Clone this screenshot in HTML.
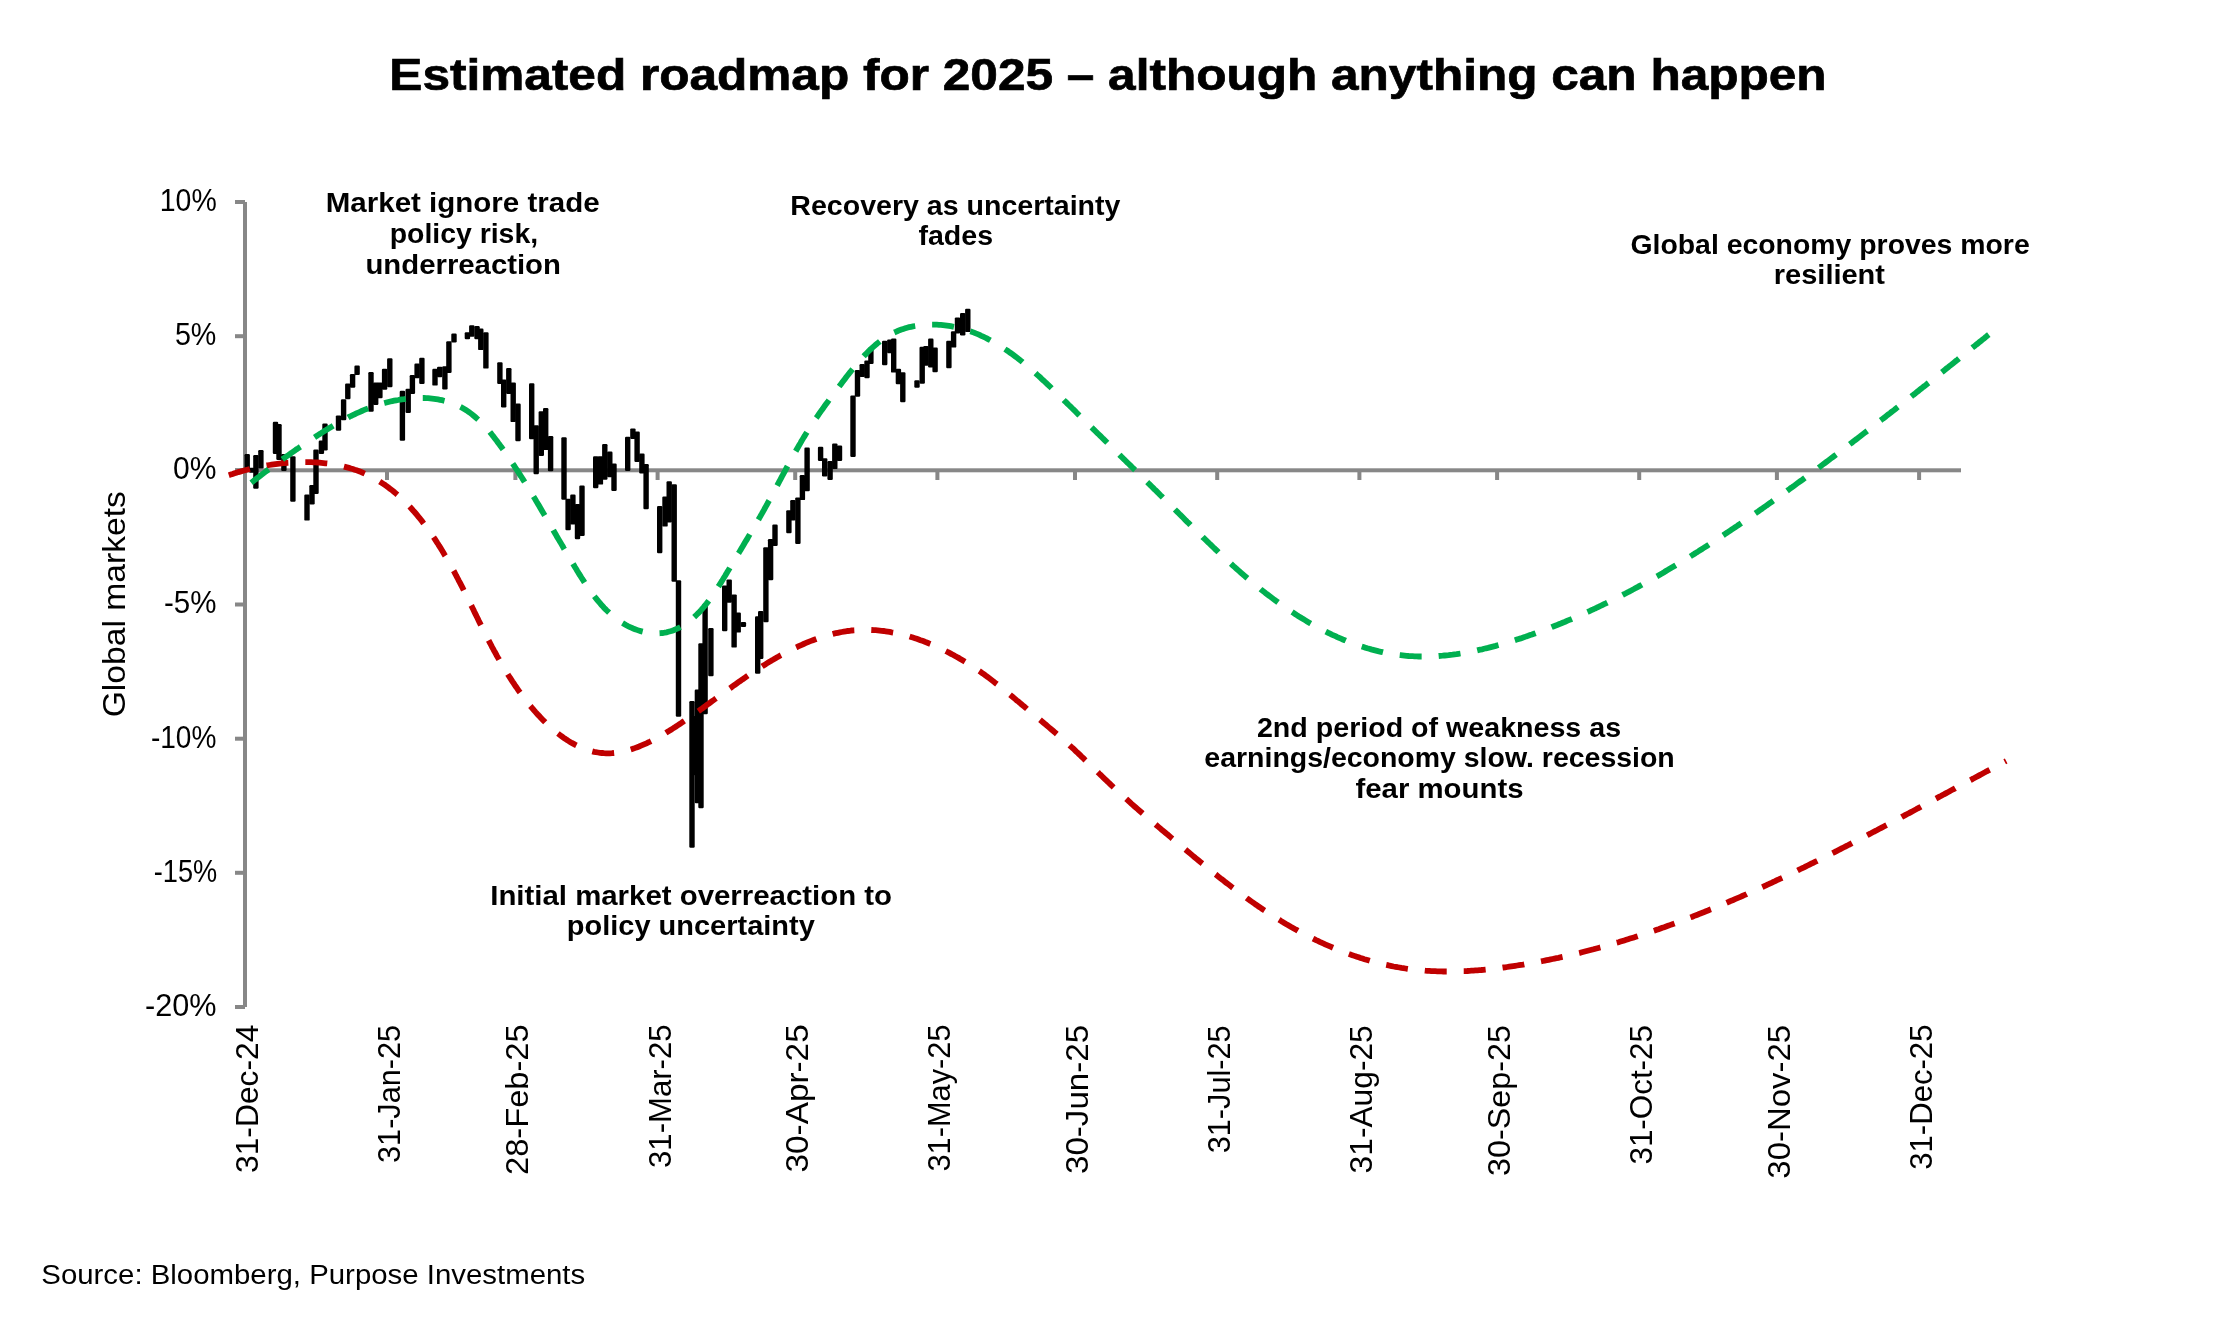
<!DOCTYPE html><html><head><meta charset="utf-8"><style>html,body{margin:0;padding:0;background:#fff;}svg{display:block;will-change:transform}</style></head><body>
<svg width="2240" height="1334" viewBox="0 0 2240 1334">
<rect x="0" y="0" width="2240" height="1334" fill="#fff"/>
<g id="axes" fill="#878787">
<rect x="243" y="202" width="4" height="805"/>
<rect x="235" y="200.0" width="10" height="4"/>
<rect x="235" y="334.2" width="10" height="4"/>
<rect x="235" y="468.3" width="10" height="4"/>
<rect x="235" y="602.5" width="10" height="4"/>
<rect x="235" y="736.7" width="10" height="4"/>
<rect x="235" y="870.8" width="10" height="4"/>
<rect x="235" y="1005.0" width="10" height="4"/>
<rect x="235" y="468.3" width="1726" height="4"/>
<rect x="385.0" y="470" width="4" height="10"/>
<rect x="513.4" y="470" width="4" height="10"/>
<rect x="655.6" y="470" width="4" height="10"/>
<rect x="793.2" y="470" width="4" height="10"/>
<rect x="935.4" y="470" width="4" height="10"/>
<rect x="1073.0" y="470" width="4" height="10"/>
<rect x="1215.2" y="470" width="4" height="10"/>
<rect x="1357.4" y="470" width="4" height="10"/>
<rect x="1495.1" y="470" width="4" height="10"/>
<rect x="1637.2" y="470" width="4" height="10"/>
<rect x="1774.9" y="470" width="4" height="10"/>
<rect x="1917.1" y="470" width="4" height="10"/>
</g>
<g id="black" fill="#000" stroke="#000">
<rect x="244.5" y="454.0" width="5.4" height="15.4" rx="1.2" stroke="none"/>
<rect x="249.0" y="467.8" width="5.4" height="5.0" rx="1.2" stroke="none"/>
<rect x="253.2" y="455.0" width="5.4" height="33.7" rx="1.2" stroke="none"/>
<rect x="258.2" y="450.0" width="5.4" height="18.5" rx="1.2" stroke="none"/>
<rect x="272.8" y="421.7" width="5.4" height="32.3" rx="1.2" stroke="none"/>
<rect x="276.3" y="424.0" width="5.4" height="36.0" rx="1.2" stroke="none"/>
<rect x="281.2" y="454.0" width="5.4" height="17.0" rx="1.2" stroke="none"/>
<rect x="290.2" y="456.3" width="5.4" height="45.4" rx="1.2" stroke="none"/>
<rect x="304.3" y="494.5" width="5.4" height="26.1" rx="1.2" stroke="none"/>
<rect x="309.3" y="485.0" width="5.4" height="19.4" rx="1.2" stroke="none"/>
<rect x="313.3" y="449.6" width="5.4" height="44.4" rx="1.2" stroke="none"/>
<rect x="318.7" y="440.6" width="5.4" height="13.4" rx="1.2" stroke="none"/>
<rect x="322.3" y="423.5" width="5.4" height="27.0" rx="1.2" stroke="none"/>
<rect x="335.8" y="415.4" width="5.4" height="15.3" rx="1.2" stroke="none"/>
<rect x="340.9" y="399.2" width="5.4" height="21.0" rx="1.2" stroke="none"/>
<rect x="345.1" y="383.5" width="5.4" height="15.7" rx="1.2" stroke="none"/>
<rect x="349.9" y="374.0" width="5.4" height="13.7" rx="1.2" stroke="none"/>
<rect x="354.4" y="365.6" width="5.4" height="9.4" rx="1.2" stroke="none"/>
<rect x="368.3" y="372.0" width="5.4" height="39.8" rx="1.2" stroke="none"/>
<rect x="373.0" y="382.4" width="5.4" height="22.6" rx="1.2" stroke="none"/>
<rect x="377.2" y="382.4" width="5.4" height="15.8" rx="1.2" stroke="none"/>
<rect x="381.9" y="368.8" width="5.4" height="21.0" rx="1.2" stroke="none"/>
<rect x="387.1" y="358.3" width="5.4" height="28.9" rx="1.2" stroke="none"/>
<rect x="399.7" y="390.8" width="5.4" height="49.9" rx="1.2" stroke="none"/>
<rect x="405.5" y="388.7" width="5.4" height="24.2" rx="1.2" stroke="none"/>
<rect x="409.7" y="375.1" width="5.4" height="18.9" rx="1.2" stroke="none"/>
<rect x="414.4" y="363.5" width="5.4" height="14.7" rx="1.2" stroke="none"/>
<rect x="419.2" y="357.8" width="5.4" height="26.2" rx="1.2" stroke="none"/>
<rect x="432.3" y="368.8" width="5.4" height="16.8" rx="1.2" stroke="none"/>
<rect x="437.0" y="366.7" width="5.4" height="10.5" rx="1.2" stroke="none"/>
<rect x="442.2" y="366.3" width="5.4" height="23.2" rx="1.2" stroke="none"/>
<rect x="446.2" y="341.2" width="5.4" height="31.8" rx="1.2" stroke="none"/>
<rect x="451.3" y="333.6" width="5.4" height="8.9" rx="1.2" stroke="none"/>
<rect x="464.7" y="332.3" width="5.4" height="7.0" rx="1.2" stroke="none"/>
<rect x="469.1" y="325.3" width="5.4" height="11.5" rx="1.2" stroke="none"/>
<rect x="474.3" y="326.0" width="5.4" height="13.3" rx="1.2" stroke="none"/>
<rect x="478.1" y="328.5" width="5.4" height="21.6" rx="1.2" stroke="none"/>
<rect x="483.2" y="332.3" width="5.4" height="36.3" rx="1.2" stroke="none"/>
<rect x="497.2" y="362.2" width="5.4" height="21.7" rx="1.2" stroke="none"/>
<rect x="501.0" y="379.4" width="5.4" height="28.1" rx="1.2" stroke="none"/>
<rect x="506.1" y="368.0" width="5.4" height="26.0" rx="1.2" stroke="none"/>
<rect x="510.5" y="382.6" width="5.4" height="39.5" rx="1.2" stroke="none"/>
<rect x="515.3" y="403.6" width="5.4" height="37.6" rx="1.2" stroke="none"/>
<rect x="529.0" y="383.2" width="5.4" height="56.1" rx="1.2" stroke="none"/>
<rect x="533.5" y="425.3" width="5.4" height="49.0" rx="1.2" stroke="none"/>
<rect x="538.6" y="411.3" width="5.4" height="44.6" rx="1.2" stroke="none"/>
<rect x="543.0" y="408.1" width="5.4" height="42.0" rx="1.2" stroke="none"/>
<rect x="547.9" y="436.1" width="5.4" height="35.1" rx="1.2" stroke="none"/>
<rect x="561.3" y="437.3" width="5.4" height="62.5" rx="1.2" stroke="none"/>
<rect x="565.4" y="498.7" width="5.4" height="31.5" rx="1.2" stroke="none"/>
<rect x="570.2" y="494.5" width="5.4" height="30.0" rx="1.2" stroke="none"/>
<rect x="574.8" y="504.0" width="5.4" height="35.2" rx="1.2" stroke="none"/>
<rect x="579.3" y="485.6" width="5.4" height="50.4" rx="1.2" stroke="none"/>
<rect x="593.0" y="456.2" width="5.4" height="32.0" rx="1.2" stroke="none"/>
<rect x="597.7" y="456.2" width="5.4" height="28.4" rx="1.2" stroke="none"/>
<rect x="602.1" y="444.1" width="5.4" height="35.7" rx="1.2" stroke="none"/>
<rect x="607.1" y="451.5" width="5.4" height="25.7" rx="1.2" stroke="none"/>
<rect x="611.3" y="463.6" width="5.4" height="27.3" rx="1.2" stroke="none"/>
<rect x="625.0" y="436.8" width="5.4" height="34.1" rx="1.2" stroke="none"/>
<rect x="630.2" y="428.4" width="5.4" height="10.5" rx="1.2" stroke="none"/>
<rect x="634.4" y="431.5" width="5.4" height="30.5" rx="1.2" stroke="none"/>
<rect x="639.2" y="453.6" width="5.4" height="19.9" rx="1.2" stroke="none"/>
<rect x="643.4" y="464.1" width="5.4" height="45.1" rx="1.2" stroke="none"/>
<rect x="657.0" y="506.1" width="5.4" height="47.2" rx="1.2" stroke="none"/>
<rect x="662.3" y="496.6" width="5.4" height="30.0" rx="1.2" stroke="none"/>
<rect x="666.5" y="481.2" width="5.4" height="41.3" rx="1.2" stroke="none"/>
<rect x="671.5" y="484.2" width="5.4" height="97.5" rx="1.2" stroke="none"/>
<rect x="675.8" y="580.2" width="5.4" height="136.5" rx="1.2" stroke="none"/>
<rect x="689.3" y="701.0" width="5.4" height="146.8" rx="1.2" stroke="none"/>
<rect x="690.1" y="715.9" width="5.4" height="59.3" rx="1.2" stroke="none"/>
<rect x="694.7" y="689.5" width="5.4" height="113.8" rx="1.2" stroke="none"/>
<rect x="698.3" y="643.3" width="5.4" height="164.9" rx="1.2" stroke="none"/>
<rect x="702.4" y="604.0" width="5.4" height="110.2" rx="1.2" stroke="none"/>
<rect x="708.2" y="628.0" width="5.4" height="48.3" rx="1.2" stroke="none"/>
<rect x="722.0" y="585.4" width="5.4" height="45.8" rx="1.2" stroke="none"/>
<rect x="726.5" y="579.4" width="5.4" height="23.3" rx="1.2" stroke="none"/>
<rect x="731.4" y="594.4" width="5.4" height="53.2" rx="1.2" stroke="none"/>
<rect x="735.5" y="612.4" width="5.4" height="20.2" rx="1.2" stroke="none"/>
<rect x="740.7" y="622.0" width="5.4" height="5.0" rx="1.2" stroke="none"/>
<rect x="755.0" y="616.2" width="5.4" height="57.6" rx="1.2" stroke="none"/>
<rect x="758.0" y="611.0" width="5.4" height="47.9" rx="1.2" stroke="none"/>
<rect x="763.2" y="547.2" width="5.4" height="75.0" rx="1.2" stroke="none"/>
<rect x="767.9" y="539.0" width="5.4" height="41.2" rx="1.2" stroke="none"/>
<rect x="772.3" y="524.5" width="5.4" height="21.5" rx="1.2" stroke="none"/>
<rect x="786.2" y="510.2" width="5.4" height="23.0" rx="1.2" stroke="none"/>
<rect x="790.2" y="500.1" width="5.4" height="20.3" rx="1.2" stroke="none"/>
<rect x="795.2" y="497.4" width="5.4" height="46.6" rx="1.2" stroke="none"/>
<rect x="799.7" y="475.1" width="5.4" height="25.0" rx="1.2" stroke="none"/>
<rect x="804.4" y="447.5" width="5.4" height="43.8" rx="1.2" stroke="none"/>
<rect x="817.9" y="446.8" width="5.4" height="14.2" rx="1.2" stroke="none"/>
<rect x="822.0" y="458.3" width="5.4" height="18.2" rx="1.2" stroke="none"/>
<rect x="827.4" y="461.0" width="5.4" height="18.9" rx="1.2" stroke="none"/>
<rect x="832.1" y="443.4" width="5.4" height="25.7" rx="1.2" stroke="none"/>
<rect x="836.8" y="445.5" width="5.4" height="15.5" rx="1.2" stroke="none"/>
<rect x="850.3" y="395.5" width="5.4" height="61.4" rx="1.2" stroke="none"/>
<rect x="854.8" y="370.0" width="5.4" height="26.7" rx="1.2" stroke="none"/>
<rect x="859.5" y="364.0" width="5.4" height="12.9" rx="1.2" stroke="none"/>
<rect x="864.3" y="360.5" width="5.4" height="17.7" rx="1.2" stroke="none"/>
<rect x="868.2" y="347.6" width="5.4" height="16.4" rx="1.2" stroke="none"/>
<rect x="882.0" y="340.7" width="5.4" height="24.6" rx="1.2" stroke="none"/>
<rect x="887.1" y="339.4" width="5.4" height="13.8" rx="1.2" stroke="none"/>
<rect x="891.0" y="338.5" width="5.4" height="34.1" rx="1.2" stroke="none"/>
<rect x="895.7" y="368.7" width="5.4" height="15.5" rx="1.2" stroke="none"/>
<rect x="900.1" y="372.2" width="5.4" height="30.1" rx="1.2" stroke="none"/>
<rect x="914.3" y="380.3" width="5.4" height="7.4" rx="1.2" stroke="none"/>
<rect x="919.5" y="346.7" width="5.4" height="37.1" rx="1.2" stroke="none"/>
<rect x="923.3" y="345.9" width="5.4" height="19.8" rx="1.2" stroke="none"/>
<rect x="928.1" y="338.5" width="5.4" height="28.9" rx="1.2" stroke="none"/>
<rect x="932.4" y="347.6" width="5.4" height="24.6" rx="1.2" stroke="none"/>
<rect x="946.2" y="340.7" width="5.4" height="27.6" rx="1.2" stroke="none"/>
<rect x="950.9" y="331.2" width="5.4" height="16.4" rx="1.2" stroke="none"/>
<rect x="954.8" y="317.4" width="5.4" height="16.0" rx="1.2" stroke="none"/>
<rect x="960.0" y="313.1" width="5.4" height="22.4" rx="1.2" stroke="none"/>
<rect x="965.1" y="308.8" width="5.4" height="23.3" rx="1.2" stroke="none"/>
</g>
<path id="red" d="M228.8 475.2 L230.7 474.6 L232.6 474.0 L234.5 473.3 L236.4 472.7 L238.3 472.1 L240.2 471.6 L242.2 471.0 L244.1 470.5 L246.0 470.0 L248.0 469.5 L249.9 469.0 L251.8 468.5 L253.8 468.0 L255.7 467.6 L257.7 467.2 L259.7 466.8 L261.6 466.4 L263.6 466.0 L265.6 465.6 L267.5 465.3 L269.5 465.0 L271.5 464.7 L273.5 464.4 L275.5 464.1 L277.5 463.8 L279.4 463.6 L281.4 463.4 L283.4 463.2 L285.4 463.0 L287.4 462.8 L289.4 462.7 L291.4 462.5 L293.4 462.4 L295.4 462.3 L297.4 462.2 L299.4 462.2 L301.4 462.1 L303.4 462.1 L305.4 462.1 L307.4 462.1 L309.4 462.2 L311.4 462.2 L313.4 462.3 L315.4 462.4 L317.4 462.5 L319.4 462.7 L321.4 462.9 L323.4 463.1 L325.4 463.3 L327.4 463.5 L329.4 463.8 L331.4 464.1 L333.3 464.4 L335.3 464.7 L337.3 465.1 L339.2 465.5 L341.2 465.9 L343.2 466.4 L345.1 466.9 L347.0 467.4 L349.0 467.9 L350.9 468.5 L352.8 469.0 L354.7 469.7 L356.6 470.3 L358.5 471.0 L360.4 471.7 L362.2 472.5 L364.1 473.3 L365.9 474.1 L367.7 474.9 L369.5 475.8 L371.3 476.7 L373.1 477.6 L374.8 478.6 L376.6 479.6 L378.3 480.6 L380.0 481.7 L381.7 482.8 L383.3 483.9 L385.0 485.0 L386.6 486.2 L388.2 487.3 L389.8 488.6 L391.4 489.8 L393.0 491.0 L394.5 492.3 L396.1 493.6 L397.6 494.9 L399.1 496.2 L400.6 497.6 L402.0 499.0 L403.5 500.3 L404.9 501.7 L406.3 503.2 L407.7 504.6 L409.1 506.0 L410.5 507.5 L411.8 509.0 L413.1 510.5 L414.5 512.0 L415.8 513.5 L417.1 515.0 L418.3 516.6 L419.6 518.1 L420.9 519.7 L422.1 521.3 L423.3 522.9 L424.5 524.5 L425.7 526.1 L426.9 527.7 L428.1 529.3 L429.3 530.9 L430.4 532.6 L431.5 534.2 L432.7 535.9 L433.8 537.5 L434.9 539.2 L436.0 540.9 L437.1 542.6 L438.2 544.2 L439.2 545.9 L440.3 547.6 L441.3 549.3 L442.4 551.1 L443.4 552.8 L444.4 554.5 L445.5 556.2 L446.5 558.0 L447.5 559.7 L448.5 561.4 L449.4 563.2 L450.4 564.9 L451.4 566.7 L452.3 568.4 L453.3 570.2 L454.3 571.9 L455.2 573.7 L456.1 575.5 L457.1 577.3 L458.0 579.0 L458.9 580.8 L459.9 582.6 L460.8 584.4 L461.7 586.2 L462.6 587.9 L463.5 589.7 L464.4 591.5 L465.3 593.3 L466.2 595.1 L467.1 596.9 L468.0 598.7 L468.8 600.5 L469.7 602.3 L470.6 604.1 L471.5 605.9 L472.4 607.7 L473.3 609.5 L474.1 611.3 L475.0 613.1 L475.9 614.9 L476.8 616.7 L477.7 618.5 L478.5 620.3 L479.4 622.1 L480.3 623.9 L481.2 625.7 L482.1 627.5 L483.0 629.2 L483.9 631.0 L484.8 632.8 L485.7 634.6 L486.6 636.4 L487.5 638.2 L488.4 640.0 L489.3 641.7 L490.3 643.5 L491.2 645.3 L492.1 647.1 L493.1 648.8 L494.0 650.6 L495.0 652.3 L496.0 654.1 L496.9 655.9 L497.9 657.6 L498.9 659.3 L499.9 661.1 L500.9 662.8 L501.9 664.6 L502.9 666.3 L503.9 668.0 L505.0 669.7 L506.0 671.4 L507.1 673.1 L508.1 674.8 L509.2 676.5 L510.3 678.2 L511.4 679.9 L512.5 681.6 L513.6 683.2 L514.7 684.9 L515.8 686.5 L517.0 688.2 L518.1 689.8 L519.3 691.5 L520.5 693.1 L521.6 694.7 L522.8 696.3 L524.0 697.9 L525.3 699.5 L526.5 701.1 L527.7 702.7 L529.0 704.2 L530.2 705.8 L531.5 707.3 L532.8 708.8 L534.1 710.4 L535.4 711.9 L536.8 713.4 L538.1 714.9 L539.5 716.3 L540.8 717.8 L542.2 719.2 L543.6 720.7 L545.1 722.1 L546.5 723.5 L547.9 724.9 L549.4 726.2 L550.9 727.6 L552.4 728.9 L553.9 730.2 L555.4 731.5 L557.0 732.8 L558.6 734.0 L560.2 735.2 L561.8 736.4 L563.4 737.6 L565.1 738.7 L566.7 739.8 L568.4 740.9 L570.1 741.9 L571.8 742.9 L573.6 743.9 L575.4 744.9 L577.2 745.8 L579.0 746.6 L580.8 747.4 L582.6 748.2 L584.5 748.9 L586.4 749.6 L588.3 750.2 L590.2 750.8 L592.2 751.3 L594.1 751.8 L596.1 752.2 L598.0 752.5 L600.0 752.8 L602.0 753.0 L604.0 753.2 L606.0 753.3 L608.0 753.3 L610.0 753.3 L612.0 753.2 L614.0 753.0 L616.0 752.8 L618.0 752.5 L620.0 752.2 L621.9 751.8 L623.9 751.4 L625.8 750.9 L627.8 750.4 L629.7 749.8 L631.6 749.2 L633.5 748.6 L635.4 747.9 L637.3 747.2 L639.1 746.5 L641.0 745.7 L642.8 744.9 L644.6 744.1 L646.5 743.3 L648.3 742.4 L650.1 741.6 L651.9 740.7 L653.6 739.7 L655.4 738.8 L657.2 737.9 L658.9 736.9 L660.7 735.9 L662.4 734.9 L664.1 733.9 L665.9 732.9 L667.6 731.8 L669.3 730.8 L671.0 729.7 L672.7 728.6 L674.4 727.6 L676.0 726.5 L677.7 725.4 L679.4 724.3 L681.1 723.2 L682.7 722.0 L684.4 720.9 L686.0 719.8 L687.7 718.7 L689.3 717.5 L691.0 716.4 L692.6 715.2 L694.3 714.1 L695.9 712.9 L697.5 711.8 L699.2 710.6 L700.8 709.4 L702.4 708.3 L704.0 707.1 L705.7 705.9 L707.3 704.7 L708.9 703.6 L710.5 702.4 L712.1 701.2 L713.8 700.0 L715.4 698.8 L717.0 697.7 L718.6 696.5 L720.2 695.3 L721.9 694.1 L723.5 692.9 L725.1 691.8 L726.7 690.6 L728.3 689.4 L730.0 688.3 L731.6 687.1 L733.2 685.9 L734.9 684.8 L736.5 683.6 L738.1 682.4 L739.8 681.3 L741.4 680.1 L743.1 679.0 L744.7 677.9 L746.4 676.7 L748.0 675.6 L749.7 674.5 L751.3 673.4 L753.0 672.3 L754.7 671.2 L756.3 670.1 L758.0 669.0 L759.7 667.9 L761.4 666.8 L763.1 665.7 L764.8 664.7 L766.5 663.6 L768.2 662.6 L769.9 661.6 L771.6 660.5 L773.4 659.5 L775.1 658.5 L776.8 657.5 L778.6 656.5 L780.3 655.5 L782.1 654.6 L783.8 653.6 L785.6 652.7 L787.4 651.7 L789.2 650.8 L791.0 649.9 L792.7 649.0 L794.5 648.1 L796.4 647.3 L798.2 646.4 L800.0 645.6 L801.8 644.8 L803.6 644.0 L805.5 643.2 L807.3 642.4 L809.2 641.6 L811.1 640.9 L812.9 640.2 L814.8 639.5 L816.7 638.8 L818.6 638.1 L820.5 637.5 L822.4 636.9 L824.3 636.3 L826.2 635.7 L828.1 635.2 L830.1 634.6 L832.0 634.1 L833.9 633.6 L835.9 633.2 L837.9 632.8 L839.8 632.4 L841.8 632.0 L843.8 631.6 L845.7 631.3 L847.7 631.0 L849.7 630.8 L851.7 630.5 L853.7 630.3 L855.7 630.2 L857.7 630.1 L859.7 629.9 L861.7 629.9 L863.7 629.8 L865.7 629.8 L867.7 629.9 L869.7 629.9 L871.7 630.0 L873.7 630.1 L875.7 630.2 L877.7 630.4 L879.7 630.6 L881.7 630.8 L883.7 631.0 L885.6 631.3 L887.6 631.6 L889.6 631.9 L891.6 632.3 L893.5 632.6 L895.5 633.0 L897.5 633.5 L899.4 633.9 L901.4 634.4 L903.3 634.8 L905.3 635.4 L907.2 635.9 L909.1 636.4 L911.0 637.0 L912.9 637.6 L914.9 638.2 L916.8 638.8 L918.7 639.5 L920.5 640.2 L922.4 640.8 L924.3 641.5 L926.2 642.3 L928.0 643.0 L929.9 643.8 L931.7 644.5 L933.6 645.3 L935.4 646.1 L937.2 646.9 L939.1 647.8 L940.9 648.6 L942.7 649.5 L944.5 650.4 L946.3 651.3 L948.0 652.2 L949.8 653.1 L951.6 654.1 L953.4 655.0 L955.1 656.0 L956.9 657.0 L958.6 657.9 L960.3 658.9 L962.1 660.0 L963.8 661.0 L965.5 662.0 L967.2 663.1 L968.9 664.2 L970.6 665.2 L972.3 666.3 L973.9 667.4 L975.6 668.5 L977.3 669.7 L978.9 670.8 L980.6 671.9 L982.2 673.1 L983.8 674.2 L985.4 675.4 L987.1 676.6 L988.7 677.8 L990.3 679.0 L991.9 680.2 L993.5 681.4 L995.0 682.7 L996.6 683.9 L998.2 685.1 L999.8 686.4 L1001.3 687.6 L1002.9 688.9 L1004.4 690.1 L1006.0 691.4 L1007.5 692.7 L1009.1 694.0 L1010.6 695.2 L1012.2 696.5 L1013.7 697.8 L1015.3 699.1 L1016.8 700.4 L1018.3 701.6 L1019.9 702.9 L1021.4 704.2 L1022.9 705.5 L1024.5 706.8 L1026.0 708.1 L1027.5 709.4 L1029.1 710.6 L1030.6 711.9 L1032.1 713.2 L1033.7 714.5 L1035.2 715.8 L1036.8 717.1 L1038.3 718.3 L1039.8 719.6 L1041.4 720.9 L1042.9 722.2 L1044.4 723.5 L1046.0 724.8 L1047.5 726.1 L1049.0 727.4 L1050.6 728.7 L1052.1 730.0 L1053.6 731.3 L1055.1 732.6 L1056.7 733.9 L1058.2 735.2 L1059.7 736.5 L1061.2 737.8 L1062.7 739.1 L1064.2 740.5 L1065.7 741.8 L1067.2 743.1 L1068.7 744.5 L1070.1 745.8 L1071.6 747.2 L1073.1 748.5 L1074.6 749.9 L1076.0 751.3 L1077.5 752.7 L1078.9 754.0 L1080.4 755.4 L1081.8 756.8 L1083.3 758.2 L1084.7 759.6 L1086.2 761.0 L1087.6 762.4 L1089.0 763.7 L1090.5 765.1 L1091.9 766.5 L1093.4 767.9 L1094.8 769.3 L1096.2 770.7 L1097.7 772.1 L1099.1 773.5 L1100.6 774.9 L1102.0 776.3 L1103.4 777.7 L1104.9 779.1 L1106.3 780.4 L1107.8 781.8 L1109.2 783.2 L1110.7 784.6 L1112.1 786.0 L1113.6 787.3 L1115.1 788.7 L1116.5 790.1 L1118.0 791.4 L1119.5 792.8 L1120.9 794.1 L1122.4 795.5 L1123.9 796.9 L1125.4 798.2 L1126.9 799.5 L1128.4 800.9 L1129.8 802.2 L1131.3 803.6 L1132.8 804.9 L1134.3 806.2 L1135.8 807.5 L1137.4 808.9 L1138.9 810.2 L1140.4 811.5 L1141.9 812.8 L1143.4 814.1 L1144.9 815.4 L1146.4 816.7 L1148.0 818.0 L1149.5 819.3 L1151.0 820.6 L1152.5 821.9 L1154.1 823.2 L1155.6 824.5 L1157.1 825.8 L1158.7 827.1 L1160.2 828.4 L1161.7 829.7 L1163.3 831.0 L1164.8 832.2 L1166.3 833.5 L1167.9 834.8 L1169.4 836.1 L1170.9 837.4 L1172.5 838.7 L1174.0 840.0 L1175.5 841.3 L1177.1 842.5 L1178.6 843.8 L1180.1 845.1 L1181.7 846.4 L1183.2 847.7 L1184.7 849.0 L1186.3 850.3 L1187.8 851.6 L1189.3 852.8 L1190.9 854.1 L1192.4 855.4 L1194.0 856.7 L1195.5 858.0 L1197.1 859.2 L1198.6 860.5 L1200.1 861.8 L1201.7 863.1 L1203.2 864.3 L1204.8 865.6 L1206.3 866.9 L1207.9 868.1 L1209.4 869.4 L1211.0 870.7 L1212.6 871.9 L1214.1 873.2 L1215.7 874.4 L1217.3 875.7 L1218.8 876.9 L1220.4 878.2 L1222.0 879.4 L1223.5 880.6 L1225.1 881.9 L1226.7 883.1 L1228.3 884.3 L1229.9 885.5 L1231.5 886.8 L1233.1 888.0 L1234.7 889.2 L1236.3 890.4 L1237.9 891.6 L1239.5 892.8 L1241.1 894.0 L1242.7 895.2 L1244.3 896.3 L1245.9 897.5 L1247.5 898.7 L1249.2 899.9 L1250.8 901.0 L1252.4 902.2 L1254.1 903.3 L1255.7 904.5 L1257.4 905.6 L1259.0 906.8 L1260.7 907.9 L1262.3 909.0 L1264.0 910.1 L1265.7 911.2 L1267.3 912.3 L1269.0 913.4 L1270.7 914.5 L1272.4 915.6 L1274.1 916.7 L1275.8 917.7 L1277.5 918.8 L1279.2 919.8 L1280.9 920.9 L1282.6 921.9 L1284.3 923.0 L1286.0 924.0 L1287.8 925.0 L1289.5 926.0 L1291.2 927.0 L1293.0 928.0 L1294.7 929.0 L1296.5 929.9 L1298.2 930.9 L1300.0 931.9 L1301.8 932.8 L1303.5 933.7 L1305.3 934.7 L1307.1 935.6 L1308.9 936.5 L1310.7 937.4 L1312.4 938.3 L1314.2 939.2 L1316.0 940.1 L1317.9 940.9 L1319.7 941.8 L1321.5 942.6 L1323.3 943.5 L1325.1 944.3 L1327.0 945.1 L1328.8 945.9 L1330.6 946.7 L1332.5 947.5 L1334.3 948.3 L1336.2 949.0 L1338.0 949.8 L1339.9 950.5 L1341.8 951.3 L1343.6 952.0 L1345.5 952.7 L1347.4 953.4 L1349.3 954.1 L1351.1 954.8 L1353.0 955.4 L1354.9 956.1 L1356.8 956.7 L1358.7 957.3 L1360.6 958.0 L1362.5 958.6 L1364.4 959.2 L1366.4 959.7 L1368.3 960.3 L1370.2 960.9 L1372.1 961.4 L1374.1 961.9 L1376.0 962.4 L1377.9 962.9 L1379.9 963.4 L1381.8 963.9 L1383.8 964.4 L1385.7 964.8 L1387.7 965.2 L1389.7 965.7 L1391.6 966.1 L1393.6 966.5 L1395.5 966.8 L1397.5 967.2 L1399.5 967.5 L1401.5 967.9 L1403.4 968.2 L1405.4 968.5 L1407.4 968.8 L1409.4 969.1 L1411.4 969.3 L1413.4 969.5 L1415.4 969.8 L1417.3 970.0 L1419.3 970.2 L1421.3 970.4 L1423.3 970.5 L1425.3 970.7 L1427.3 970.8 L1429.3 970.9 L1431.3 971.1 L1433.3 971.2 L1435.3 971.2 L1437.3 971.3 L1439.3 971.4 L1441.3 971.4 L1443.3 971.5 L1445.3 971.5 L1447.3 971.5 L1449.3 971.5 L1451.4 971.5 L1453.4 971.4 L1455.4 971.4 L1457.4 971.4 L1459.4 971.3 L1461.4 971.2 L1463.4 971.1 L1465.4 971.1 L1467.4 971.0 L1469.4 970.8 L1471.4 970.7 L1473.4 970.6 L1475.4 970.4 L1477.4 970.3 L1479.4 970.1 L1481.4 970.0 L1483.3 969.8 L1485.3 969.6 L1487.3 969.4 L1489.3 969.2 L1491.3 969.0 L1493.3 968.8 L1495.3 968.5 L1497.3 968.3 L1499.3 968.0 L1501.3 967.8 L1503.3 967.5 L1505.2 967.3 L1507.2 967.0 L1509.2 966.7 L1511.2 966.4 L1513.2 966.1 L1515.1 965.8 L1517.1 965.5 L1519.1 965.2 L1521.1 964.9 L1523.1 964.6 L1525.0 964.2 L1527.0 963.9 L1529.0 963.6 L1531.0 963.2 L1532.9 962.8 L1534.9 962.5 L1536.9 962.1 L1538.8 961.8 L1540.8 961.4 L1542.8 961.0 L1544.7 960.6 L1546.7 960.2 L1548.7 959.8 L1550.6 959.4 L1552.6 959.0 L1554.5 958.6 L1556.5 958.2 L1558.5 957.8 L1560.4 957.3 L1562.4 956.9 L1564.3 956.5 L1566.3 956.0 L1568.2 955.6 L1570.2 955.1 L1572.1 954.6 L1574.1 954.2 L1576.0 953.7 L1578.0 953.2 L1579.9 952.8 L1581.9 952.3 L1583.8 951.8 L1585.7 951.3 L1587.7 950.8 L1589.6 950.3 L1591.6 949.8 L1593.5 949.3 L1595.4 948.7 L1597.4 948.2 L1599.3 947.7 L1601.2 947.2 L1603.2 946.6 L1605.1 946.1 L1607.0 945.5 L1608.9 945.0 L1610.9 944.4 L1612.8 943.9 L1614.7 943.3 L1616.6 942.7 L1618.6 942.2 L1620.5 941.6 L1622.4 941.0 L1624.3 940.4 L1626.2 939.8 L1628.1 939.2 L1630.0 938.6 L1632.0 938.0 L1633.9 937.4 L1635.8 936.8 L1637.7 936.2 L1639.6 935.6 L1641.5 935.0 L1643.4 934.3 L1645.3 933.7 L1647.2 933.1 L1649.1 932.4 L1651.0 931.8 L1652.9 931.1 L1654.8 930.5 L1656.7 929.8 L1658.6 929.2 L1660.4 928.5 L1662.3 927.8 L1664.2 927.2 L1666.1 926.5 L1668.0 925.8 L1669.9 925.1 L1671.8 924.4 L1673.6 923.8 L1675.5 923.1 L1677.4 922.4 L1679.3 921.7 L1681.2 921.0 L1683.0 920.3 L1684.9 919.5 L1686.8 918.8 L1688.6 918.1 L1690.5 917.4 L1692.4 916.7 L1694.2 915.9 L1696.1 915.2 L1698.0 914.5 L1699.8 913.7 L1701.7 913.0 L1703.6 912.3 L1705.4 911.5 L1707.3 910.8 L1709.1 910.0 L1711.0 909.3 L1712.8 908.5 L1714.7 907.7 L1716.5 907.0 L1718.4 906.2 L1720.2 905.4 L1722.1 904.7 L1723.9 903.9 L1725.8 903.1 L1727.6 902.3 L1729.5 901.5 L1731.3 900.7 L1733.2 900.0 L1735.0 899.2 L1736.8 898.4 L1738.7 897.6 L1740.5 896.8 L1742.3 896.0 L1744.2 895.2 L1746.0 894.4 L1747.8 893.5 L1749.7 892.7 L1751.5 891.9 L1753.3 891.1 L1755.2 890.3 L1757.0 889.4 L1758.8 888.6 L1760.6 887.8 L1762.4 887.0 L1764.3 886.1 L1766.1 885.3 L1767.9 884.5 L1769.7 883.6 L1771.5 882.8 L1773.4 881.9 L1775.2 881.1 L1777.0 880.2 L1778.8 879.4 L1780.6 878.5 L1782.4 877.7 L1784.2 876.8 L1786.0 876.0 L1787.9 875.1 L1789.7 874.2 L1791.5 873.4 L1793.3 872.5 L1795.1 871.6 L1796.9 870.8 L1798.7 869.9 L1800.5 869.0 L1802.3 868.1 L1804.1 867.3 L1805.9 866.4 L1807.7 865.5 L1809.5 864.6 L1811.3 863.7 L1813.1 862.8 L1814.9 861.9 L1816.7 861.1 L1818.5 860.2 L1820.3 859.3 L1822.0 858.4 L1823.8 857.5 L1825.6 856.6 L1827.4 855.7 L1829.2 854.8 L1831.0 853.9 L1832.8 853.0 L1834.6 852.1 L1836.4 851.2 L1838.1 850.2 L1839.9 849.3 L1841.7 848.4 L1843.5 847.5 L1845.3 846.6 L1847.1 845.7 L1848.8 844.8 L1850.6 843.9 L1852.4 842.9 L1854.2 842.0 L1856.0 841.1 L1857.7 840.2 L1859.5 839.3 L1861.3 838.3 L1863.1 837.4 L1864.8 836.5 L1866.6 835.5 L1868.4 834.6 L1870.2 833.7 L1871.9 832.8 L1873.7 831.8 L1875.5 830.9 L1877.3 830.0 L1879.0 829.0 L1880.8 828.1 L1882.6 827.2 L1884.3 826.2 L1886.1 825.3 L1887.9 824.4 L1889.7 823.4 L1891.4 822.5 L1893.2 821.5 L1895.0 820.6 L1896.7 819.7 L1898.5 818.7 L1900.3 817.8 L1902.0 816.8 L1903.8 815.9 L1905.6 814.9 L1907.3 814.0 L1909.1 813.1 L1910.9 812.1 L1912.6 811.2 L1914.4 810.2 L1916.2 809.3 L1917.9 808.3 L1919.7 807.4 L1921.5 806.4 L1923.2 805.5 L1925.0 804.5 L1926.8 803.6 L1928.5 802.6 L1930.3 801.7 L1932.0 800.7 L1933.8 799.8 L1935.6 798.8 L1937.3 797.9 L1939.1 796.9 L1940.9 796.0 L1942.6 795.0 L1944.4 794.1 L1946.2 793.1 L1947.9 792.2 L1949.7 791.2 L1951.4 790.3 L1953.2 789.3 L1955.0 788.4 L1956.7 787.4 L1958.5 786.5 L1960.3 785.5 L1962.0 784.6 L1963.8 783.6 L1965.6 782.7 L1967.3 781.8 L1969.1 780.8 L1970.9 779.9 L1972.6 778.9 L1974.4 778.0 L1976.2 777.0 L1977.9 776.1 L1979.7 775.1 L1981.4 774.2 L1983.2 773.2 L1985.0 772.3 L1986.7 771.3 L1988.5 770.4 L1990.3 769.5 L1992.0 768.5 L1993.8 767.6 L1995.6 766.6 L1997.4 765.7 L1999.1 764.7 L2000.9 763.8 L2002.7 762.9 L2004.4 761.9 L2006.2 761.0" fill="none" stroke="#C00000" stroke-width="5.8" stroke-dasharray="22 17"/>
<path id="green" d="M251.2 482.8 L252.8 481.6 L254.3 480.3 L255.9 479.1 L257.5 477.9 L259.1 476.7 L260.7 475.4 L262.3 474.2 L263.9 473.0 L265.5 471.8 L267.1 470.6 L268.7 469.4 L270.3 468.2 L271.9 467.0 L273.5 465.8 L275.1 464.6 L276.7 463.4 L278.3 462.3 L280.0 461.1 L281.6 459.9 L283.2 458.7 L284.8 457.6 L286.5 456.4 L288.1 455.3 L289.8 454.1 L291.4 453.0 L293.0 451.8 L294.7 450.7 L296.3 449.5 L298.0 448.4 L299.6 447.3 L301.3 446.2 L303.0 445.0 L304.6 443.9 L306.3 442.8 L308.0 441.7 L309.6 440.6 L311.3 439.5 L313.0 438.4 L314.7 437.3 L316.3 436.2 L318.0 435.1 L319.7 434.0 L321.4 433.0 L323.1 431.9 L324.8 430.8 L326.5 429.8 L328.2 428.7 L329.9 427.7 L331.6 426.7 L333.4 425.6 L335.1 424.6 L336.8 423.6 L338.6 422.6 L340.3 421.7 L342.1 420.7 L343.8 419.7 L345.6 418.8 L347.4 417.9 L349.1 416.9 L350.9 416.0 L352.7 415.2 L354.5 414.3 L356.3 413.4 L358.2 412.6 L360.0 411.8 L361.8 411.0 L363.7 410.2 L365.5 409.4 L367.4 408.7 L369.3 408.0 L371.1 407.3 L373.0 406.6 L374.9 405.9 L376.8 405.3 L378.7 404.7 L380.6 404.1 L382.6 403.5 L384.5 403.0 L386.4 402.5 L388.4 402.0 L390.3 401.5 L392.3 401.1 L394.2 400.7 L396.2 400.3 L398.2 400.0 L400.2 399.6 L402.1 399.3 L404.1 399.1 L406.1 398.8 L408.1 398.6 L410.1 398.4 L412.1 398.3 L414.1 398.1 L416.1 398.0 L418.1 398.0 L420.1 398.0 L422.1 398.0 L424.1 398.0 L426.1 398.1 L428.1 398.2 L430.1 398.4 L432.1 398.6 L434.1 398.8 L436.1 399.1 L438.0 399.4 L440.0 399.8 L442.0 400.2 L443.9 400.7 L445.9 401.2 L447.8 401.7 L449.7 402.3 L451.6 403.0 L453.5 403.7 L455.3 404.4 L457.2 405.2 L459.0 406.1 L460.8 407.0 L462.5 408.0 L464.2 409.0 L465.9 410.0 L467.6 411.1 L469.3 412.3 L470.9 413.5 L472.5 414.7 L474.0 416.0 L475.5 417.3 L477.0 418.6 L478.5 419.9 L480.0 421.3 L481.4 422.7 L482.8 424.2 L484.2 425.6 L485.5 427.1 L486.9 428.6 L488.2 430.1 L489.5 431.6 L490.8 433.2 L492.0 434.7 L493.3 436.3 L494.5 437.9 L495.7 439.5 L496.9 441.0 L498.1 442.7 L499.3 444.3 L500.5 445.9 L501.7 447.5 L502.8 449.1 L504.0 450.8 L505.1 452.4 L506.3 454.1 L507.4 455.7 L508.6 457.4 L509.7 459.0 L510.8 460.7 L511.9 462.3 L513.0 464.0 L514.1 465.7 L515.2 467.4 L516.3 469.0 L517.4 470.7 L518.5 472.4 L519.6 474.1 L520.7 475.8 L521.8 477.5 L522.8 479.1 L523.9 480.8 L525.0 482.5 L526.0 484.2 L527.1 485.9 L528.1 487.7 L529.2 489.4 L530.2 491.1 L531.3 492.8 L532.3 494.5 L533.3 496.2 L534.4 497.9 L535.4 499.6 L536.4 501.4 L537.4 503.1 L538.5 504.8 L539.5 506.5 L540.5 508.3 L541.5 510.0 L542.5 511.7 L543.5 513.4 L544.6 515.2 L545.6 516.9 L546.6 518.6 L547.6 520.4 L548.6 522.1 L549.6 523.8 L550.6 525.6 L551.6 527.3 L552.6 529.0 L553.6 530.8 L554.6 532.5 L555.6 534.2 L556.6 536.0 L557.6 537.7 L558.6 539.4 L559.7 541.2 L560.7 542.9 L561.7 544.6 L562.7 546.3 L563.7 548.1 L564.7 549.8 L565.7 551.5 L566.7 553.3 L567.8 555.0 L568.8 556.7 L569.8 558.4 L570.8 560.2 L571.8 561.9 L572.9 563.6 L573.9 565.3 L574.9 567.0 L576.0 568.7 L577.0 570.5 L578.1 572.2 L579.1 573.9 L580.2 575.6 L581.2 577.3 L582.3 579.0 L583.4 580.6 L584.5 582.3 L585.6 584.0 L586.7 585.7 L587.8 587.3 L589.0 589.0 L590.1 590.6 L591.3 592.2 L592.5 593.8 L593.7 595.4 L594.9 597.0 L596.2 598.6 L597.4 600.1 L598.7 601.7 L600.0 603.2 L601.3 604.7 L602.7 606.2 L604.0 607.7 L605.4 609.1 L606.8 610.5 L608.3 611.9 L609.8 613.3 L611.3 614.6 L612.8 615.9 L614.3 617.2 L615.9 618.4 L617.5 619.6 L619.1 620.8 L620.8 621.9 L622.5 623.0 L624.2 624.0 L625.9 625.0 L627.7 626.0 L629.5 626.9 L631.3 627.7 L633.2 628.5 L635.0 629.2 L636.9 629.9 L638.8 630.6 L640.7 631.1 L642.6 631.6 L644.6 632.1 L646.6 632.5 L648.5 632.8 L650.5 633.1 L652.5 633.2 L654.5 633.3 L656.5 633.4 L658.5 633.3 L660.5 633.2 L662.5 633.0 L664.5 632.7 L666.5 632.3 L668.4 631.8 L670.3 631.3 L672.3 630.7 L674.1 630.0 L676.0 629.2 L677.8 628.4 L679.6 627.5 L681.4 626.6 L683.1 625.6 L684.8 624.5 L686.5 623.4 L688.1 622.2 L689.7 621.0 L691.2 619.7 L692.8 618.4 L694.2 617.1 L695.7 615.7 L697.1 614.3 L698.5 612.9 L699.9 611.4 L701.3 609.9 L702.6 608.4 L703.9 606.9 L705.1 605.4 L706.4 603.8 L707.6 602.2 L708.8 600.6 L710.0 599.0 L711.2 597.4 L712.3 595.7 L713.5 594.1 L714.6 592.4 L715.7 590.8 L716.8 589.1 L717.9 587.4 L719.0 585.7 L720.0 584.0 L721.1 582.3 L722.2 580.6 L723.2 578.9 L724.2 577.2 L725.3 575.5 L726.3 573.8 L727.3 572.0 L728.4 570.3 L729.4 568.6 L730.4 566.9 L731.4 565.2 L732.5 563.4 L733.5 561.7 L734.5 560.0 L735.6 558.3 L736.6 556.6 L737.6 554.8 L738.7 553.1 L739.7 551.4 L740.7 549.7 L741.7 548.0 L742.8 546.2 L743.8 544.5 L744.8 542.8 L745.8 541.1 L746.9 539.4 L747.9 537.6 L748.9 535.9 L749.9 534.2 L751.0 532.5 L752.0 530.7 L753.0 529.0 L754.0 527.3 L755.0 525.6 L756.0 523.8 L757.0 522.1 L758.0 520.4 L759.0 518.6 L760.0 516.9 L761.0 515.1 L762.0 513.4 L763.0 511.6 L764.0 509.9 L764.9 508.2 L765.9 506.4 L766.9 504.7 L767.8 502.9 L768.8 501.1 L769.8 499.4 L770.7 497.6 L771.7 495.9 L772.6 494.1 L773.6 492.3 L774.5 490.6 L775.5 488.8 L776.4 487.0 L777.3 485.3 L778.3 483.5 L779.2 481.7 L780.2 479.9 L781.1 478.2 L782.0 476.4 L783.0 474.6 L783.9 472.9 L784.9 471.1 L785.8 469.3 L786.7 467.6 L787.7 465.8 L788.6 464.0 L789.6 462.3 L790.6 460.5 L791.5 458.8 L792.5 457.0 L793.4 455.3 L794.4 453.5 L795.4 451.8 L796.4 450.0 L797.4 448.3 L798.4 446.5 L799.4 444.8 L800.4 443.1 L801.4 441.3 L802.4 439.6 L803.4 437.9 L804.5 436.2 L805.5 434.5 L806.6 432.8 L807.6 431.1 L808.7 429.4 L809.8 427.7 L810.9 426.0 L812.0 424.3 L813.1 422.7 L814.2 421.0 L815.3 419.3 L816.5 417.7 L817.6 416.0 L818.7 414.4 L819.9 412.7 L821.0 411.1 L822.2 409.5 L823.4 407.8 L824.5 406.2 L825.7 404.6 L826.9 403.0 L828.1 401.4 L829.3 399.7 L830.5 398.1 L831.7 396.5 L832.8 394.9 L834.0 393.3 L835.2 391.7 L836.4 390.1 L837.7 388.5 L838.9 386.9 L840.1 385.3 L841.3 383.7 L842.5 382.1 L843.7 380.5 L844.9 378.9 L846.1 377.3 L847.3 375.7 L848.6 374.2 L849.8 372.6 L851.1 371.0 L852.3 369.5 L853.6 367.9 L854.8 366.4 L856.1 364.8 L857.4 363.3 L858.7 361.8 L860.1 360.3 L861.4 358.8 L862.7 357.3 L864.1 355.8 L865.5 354.4 L866.9 352.9 L868.3 351.5 L869.7 350.1 L871.2 348.8 L872.7 347.4 L874.2 346.1 L875.7 344.8 L877.2 343.5 L878.8 342.3 L880.4 341.0 L882.0 339.9 L883.7 338.7 L885.3 337.6 L887.0 336.5 L888.7 335.5 L890.5 334.5 L892.2 333.5 L894.0 332.6 L895.8 331.8 L897.7 331.0 L899.5 330.2 L901.4 329.5 L903.3 328.9 L905.2 328.3 L907.1 327.7 L909.1 327.2 L911.0 326.8 L913.0 326.4 L915.0 326.0 L916.9 325.7 L918.9 325.4 L920.9 325.1 L922.9 324.9 L924.9 324.8 L926.9 324.7 L928.9 324.6 L930.9 324.6 L932.9 324.6 L934.9 324.6 L936.9 324.7 L938.9 324.8 L940.9 324.9 L942.9 325.1 L944.9 325.3 L946.9 325.6 L948.9 325.9 L950.8 326.2 L952.8 326.6 L954.8 327.0 L956.7 327.4 L958.7 327.8 L960.6 328.3 L962.6 328.8 L964.5 329.4 L966.4 330.0 L968.3 330.6 L970.2 331.3 L972.1 331.9 L974.0 332.6 L975.8 333.4 L977.7 334.1 L979.5 334.9 L981.3 335.8 L983.2 336.6 L985.0 337.5 L986.8 338.4 L988.5 339.3 L990.3 340.2 L992.1 341.2 L993.8 342.2 L995.6 343.2 L997.3 344.2 L999.0 345.2 L1000.7 346.3 L1002.4 347.4 L1004.0 348.5 L1005.7 349.6 L1007.4 350.7 L1009.0 351.9 L1010.6 353.0 L1012.3 354.2 L1013.9 355.4 L1015.5 356.6 L1017.1 357.8 L1018.6 359.0 L1020.2 360.3 L1021.8 361.5 L1023.3 362.8 L1024.9 364.1 L1026.4 365.3 L1028.0 366.6 L1029.5 367.9 L1031.0 369.2 L1032.5 370.6 L1034.0 371.9 L1035.5 373.2 L1037.0 374.6 L1038.5 375.9 L1040.0 377.2 L1041.4 378.6 L1042.9 380.0 L1044.4 381.3 L1045.8 382.7 L1047.3 384.1 L1048.7 385.5 L1050.2 386.8 L1051.6 388.2 L1053.1 389.6 L1054.5 391.0 L1056.0 392.4 L1057.4 393.8 L1058.8 395.2 L1060.3 396.6 L1061.7 398.0 L1063.1 399.4 L1064.5 400.8 L1066.0 402.2 L1067.4 403.6 L1068.8 405.0 L1070.3 406.4 L1071.7 407.8 L1073.1 409.2 L1074.6 410.6 L1076.0 412.1 L1077.4 413.5 L1078.8 414.9 L1080.3 416.3 L1081.7 417.7 L1083.1 419.1 L1084.6 420.5 L1086.0 421.9 L1087.4 423.3 L1088.8 424.7 L1090.3 426.1 L1091.7 427.5 L1093.1 428.9 L1094.6 430.3 L1096.0 431.7 L1097.4 433.1 L1098.9 434.5 L1100.3 435.9 L1101.7 437.3 L1103.1 438.7 L1104.6 440.1 L1106.0 441.5 L1107.4 442.9 L1108.9 444.3 L1110.3 445.7 L1111.7 447.1 L1113.1 448.5 L1114.6 449.9 L1116.0 451.4 L1117.4 452.8 L1118.9 454.2 L1120.3 455.6 L1121.7 457.0 L1123.1 458.4 L1124.6 459.8 L1126.0 461.2 L1127.4 462.6 L1128.9 464.0 L1130.3 465.4 L1131.7 466.8 L1133.1 468.2 L1134.6 469.6 L1136.0 471.0 L1137.4 472.4 L1138.9 473.8 L1140.3 475.2 L1141.7 476.6 L1143.1 478.1 L1144.6 479.5 L1146.0 480.9 L1147.4 482.3 L1148.8 483.7 L1150.3 485.1 L1151.7 486.5 L1153.1 487.9 L1154.5 489.3 L1156.0 490.7 L1157.4 492.1 L1158.8 493.5 L1160.2 495.0 L1161.7 496.4 L1163.1 497.8 L1164.5 499.2 L1165.9 500.6 L1167.3 502.0 L1168.8 503.4 L1170.2 504.8 L1171.6 506.2 L1173.0 507.6 L1174.5 509.1 L1175.9 510.5 L1177.3 511.9 L1178.7 513.3 L1180.1 514.7 L1181.6 516.1 L1183.0 517.5 L1184.4 518.9 L1185.8 520.4 L1187.2 521.8 L1188.7 523.2 L1190.1 524.6 L1191.5 526.0 L1192.9 527.4 L1194.4 528.8 L1195.8 530.2 L1197.2 531.6 L1198.6 533.0 L1200.1 534.4 L1201.5 535.8 L1202.9 537.3 L1204.4 538.6 L1205.8 540.0 L1207.2 541.4 L1208.7 542.8 L1210.1 544.2 L1211.6 545.6 L1213.0 547.0 L1214.5 548.4 L1215.9 549.8 L1217.4 551.1 L1218.8 552.5 L1220.3 553.9 L1221.7 555.3 L1223.2 556.6 L1224.7 558.0 L1226.1 559.4 L1227.6 560.7 L1229.1 562.1 L1230.6 563.4 L1232.1 564.8 L1233.5 566.1 L1235.0 567.4 L1236.5 568.8 L1238.0 570.1 L1239.5 571.4 L1241.0 572.8 L1242.5 574.1 L1244.1 575.4 L1245.6 576.7 L1247.1 578.0 L1248.6 579.3 L1250.2 580.6 L1251.7 581.9 L1253.2 583.1 L1254.8 584.4 L1256.3 585.7 L1257.9 586.9 L1259.5 588.2 L1261.0 589.5 L1262.6 590.7 L1264.2 591.9 L1265.7 593.2 L1267.3 594.4 L1268.9 595.6 L1270.5 596.8 L1272.1 598.0 L1273.7 599.2 L1275.3 600.4 L1277.0 601.6 L1278.6 602.8 L1280.2 603.9 L1281.8 605.1 L1283.5 606.2 L1285.1 607.4 L1286.8 608.5 L1288.4 609.6 L1290.1 610.7 L1291.8 611.8 L1293.5 612.9 L1295.1 614.0 L1296.8 615.1 L1298.5 616.2 L1300.2 617.2 L1301.9 618.3 L1303.6 619.3 L1305.4 620.4 L1307.1 621.4 L1308.8 622.4 L1310.5 623.4 L1312.3 624.4 L1314.0 625.4 L1315.8 626.3 L1317.5 627.3 L1319.3 628.3 L1321.1 629.2 L1322.9 630.1 L1324.6 631.0 L1326.4 631.9 L1328.2 632.8 L1330.0 633.7 L1331.8 634.6 L1333.6 635.4 L1335.5 636.2 L1337.3 637.1 L1339.1 637.9 L1341.0 638.7 L1342.8 639.5 L1344.7 640.2 L1346.5 641.0 L1348.4 641.7 L1350.2 642.4 L1352.1 643.2 L1354.0 643.8 L1355.9 644.5 L1357.8 645.2 L1359.7 645.8 L1361.6 646.5 L1363.5 647.1 L1365.4 647.7 L1367.3 648.3 L1369.2 648.8 L1371.2 649.4 L1373.1 649.9 L1375.0 650.4 L1377.0 650.9 L1378.9 651.4 L1380.9 651.8 L1382.8 652.2 L1384.8 652.7 L1386.7 653.0 L1388.7 653.4 L1390.7 653.8 L1392.7 654.1 L1394.6 654.4 L1396.6 654.7 L1398.6 655.0 L1400.6 655.2 L1402.6 655.4 L1404.6 655.6 L1406.6 655.8 L1408.6 656.0 L1410.6 656.1 L1412.6 656.2 L1414.6 656.3 L1416.6 656.4 L1418.6 656.5 L1420.6 656.5 L1422.6 656.5 L1424.6 656.5 L1426.6 656.5 L1428.6 656.4 L1430.6 656.4 L1432.6 656.3 L1434.6 656.2 L1436.6 656.1 L1438.6 656.0 L1440.6 655.8 L1442.6 655.7 L1444.6 655.5 L1446.6 655.3 L1448.6 655.1 L1450.6 654.8 L1452.6 654.6 L1454.5 654.3 L1456.5 654.1 L1458.5 653.8 L1460.5 653.5 L1462.5 653.1 L1464.4 652.8 L1466.4 652.5 L1468.4 652.1 L1470.4 651.7 L1472.3 651.4 L1474.3 651.0 L1476.2 650.6 L1478.2 650.1 L1480.2 649.7 L1482.1 649.3 L1484.1 648.8 L1486.0 648.3 L1488.0 647.9 L1489.9 647.4 L1491.8 646.9 L1493.8 646.4 L1495.7 645.9 L1497.7 645.3 L1499.6 644.8 L1501.5 644.3 L1503.4 643.7 L1505.4 643.1 L1507.3 642.6 L1509.2 642.0 L1511.1 641.4 L1513.0 640.8 L1514.9 640.2 L1516.8 639.6 L1518.7 639.0 L1520.7 638.4 L1522.6 637.7 L1524.5 637.1 L1526.3 636.4 L1528.2 635.8 L1530.1 635.1 L1532.0 634.5 L1533.9 633.8 L1535.8 633.1 L1537.7 632.4 L1539.6 631.7 L1541.4 631.0 L1543.3 630.3 L1545.2 629.6 L1547.1 628.9 L1548.9 628.2 L1550.8 627.5 L1552.7 626.7 L1554.5 626.0 L1556.4 625.3 L1558.3 624.5 L1560.1 623.8 L1562.0 623.0 L1563.8 622.3 L1565.7 621.5 L1567.5 620.7 L1569.4 619.9 L1571.2 619.2 L1573.1 618.4 L1574.9 617.6 L1576.7 616.8 L1578.6 616.0 L1580.4 615.2 L1582.2 614.4 L1584.1 613.5 L1585.9 612.7 L1587.7 611.9 L1589.5 611.1 L1591.4 610.2 L1593.2 609.4 L1595.0 608.5 L1596.8 607.7 L1598.6 606.8 L1600.4 606.0 L1602.2 605.1 L1604.0 604.2 L1605.8 603.4 L1607.6 602.5 L1609.4 601.6 L1611.2 600.7 L1613.0 599.8 L1614.8 598.9 L1616.6 598.0 L1618.4 597.1 L1620.2 596.2 L1622.0 595.3 L1623.7 594.4 L1625.5 593.5 L1627.3 592.5 L1629.1 591.6 L1630.8 590.7 L1632.6 589.7 L1634.4 588.8 L1636.1 587.8 L1637.9 586.9 L1639.7 585.9 L1641.4 585.0 L1643.2 584.0 L1644.9 583.0 L1646.7 582.1 L1648.4 581.1 L1650.2 580.1 L1651.9 579.1 L1653.7 578.1 L1655.4 577.2 L1657.2 576.2 L1658.9 575.2 L1660.6 574.2 L1662.4 573.2 L1664.1 572.2 L1665.8 571.1 L1667.6 570.1 L1669.3 569.1 L1671.0 568.1 L1672.7 567.1 L1674.5 566.0 L1676.2 565.0 L1677.9 564.0 L1679.6 562.9 L1681.3 561.9 L1683.0 560.9 L1684.7 559.8 L1686.4 558.8 L1688.1 557.7 L1689.9 556.7 L1691.6 555.6 L1693.3 554.6 L1694.9 553.5 L1696.6 552.4 L1698.3 551.4 L1700.0 550.3 L1701.7 549.2 L1703.4 548.1 L1705.1 547.1 L1706.8 546.0 L1708.5 544.9 L1710.2 543.8 L1711.8 542.7 L1713.5 541.6 L1715.2 540.5 L1716.9 539.4 L1718.5 538.3 L1720.2 537.2 L1721.9 536.1 L1723.6 535.0 L1725.2 533.9 L1726.9 532.8 L1728.6 531.7 L1730.2 530.6 L1731.9 529.4 L1733.5 528.3 L1735.2 527.2 L1736.9 526.1 L1738.5 525.0 L1740.2 523.8 L1741.8 522.7 L1743.5 521.6 L1745.1 520.4 L1746.8 519.3 L1748.4 518.2 L1750.1 517.0 L1751.7 515.9 L1753.4 514.7 L1755.0 513.6 L1756.7 512.4 L1758.3 511.3 L1759.9 510.1 L1761.6 509.0 L1763.2 507.8 L1764.9 506.7 L1766.5 505.5 L1768.1 504.4 L1769.8 503.2 L1771.4 502.1 L1773.0 500.9 L1774.7 499.7 L1776.3 498.6 L1777.9 497.4 L1779.6 496.2 L1781.2 495.1 L1782.8 493.9 L1784.4 492.7 L1786.1 491.6 L1787.7 490.4 L1789.3 489.2 L1790.9 488.0 L1792.6 486.9 L1794.2 485.7 L1795.8 484.5 L1797.4 483.3 L1799.0 482.1 L1800.6 481.0 L1802.3 479.8 L1803.9 478.6 L1805.5 477.4 L1807.1 476.2 L1808.7 475.0 L1810.3 473.8 L1811.9 472.6 L1813.6 471.5 L1815.2 470.3 L1816.8 469.1 L1818.4 467.9 L1820.0 466.7 L1821.6 465.5 L1823.2 464.3 L1824.8 463.1 L1826.4 461.9 L1828.0 460.7 L1829.6 459.5 L1831.2 458.3 L1832.8 457.1 L1834.4 455.9 L1836.0 454.7 L1837.6 453.5 L1839.2 452.2 L1840.8 451.0 L1842.4 449.8 L1844.0 448.6 L1845.6 447.4 L1847.2 446.2 L1848.8 445.0 L1850.4 443.8 L1852.0 442.6 L1853.6 441.3 L1855.2 440.1 L1856.8 438.9 L1858.3 437.7 L1859.9 436.5 L1861.5 435.2 L1863.1 434.0 L1864.7 432.8 L1866.3 431.6 L1867.9 430.4 L1869.5 429.1 L1871.0 427.9 L1872.6 426.7 L1874.2 425.5 L1875.8 424.2 L1877.4 423.0 L1879.0 421.8 L1880.5 420.5 L1882.1 419.3 L1883.7 418.1 L1885.3 416.9 L1886.9 415.6 L1888.4 414.4 L1890.0 413.2 L1891.6 411.9 L1893.2 410.7 L1894.8 409.5 L1896.3 408.2 L1897.9 407.0 L1899.5 405.8 L1901.1 404.5 L1902.6 403.3 L1904.2 402.0 L1905.8 400.8 L1907.4 399.6 L1908.9 398.3 L1910.5 397.1 L1912.1 395.8 L1913.7 394.6 L1915.2 393.4 L1916.8 392.1 L1918.4 390.9 L1919.9 389.6 L1921.5 388.4 L1923.1 387.1 L1924.7 385.9 L1926.2 384.7 L1927.8 383.4 L1929.4 382.2 L1930.9 380.9 L1932.5 379.7 L1934.1 378.4 L1935.6 377.2 L1937.2 375.9 L1938.8 374.7 L1940.3 373.4 L1941.9 372.2 L1943.5 370.9 L1945.0 369.7 L1946.6 368.4 L1948.2 367.2 L1949.7 365.9 L1951.3 364.7 L1952.9 363.4 L1954.4 362.2 L1956.0 360.9 L1957.6 359.7 L1959.1 358.4 L1960.7 357.2 L1962.2 355.9 L1963.8 354.7 L1965.4 353.4 L1966.9 352.2 L1968.5 350.9 L1970.1 349.6 L1971.6 348.4 L1973.2 347.1 L1974.7 345.9 L1976.3 344.6 L1977.9 343.4 L1979.4 342.1 L1981.0 340.9 L1982.6 339.6 L1984.1 338.4 L1985.7 337.1 L1987.2 335.8 L1988.8 334.6" fill="none" stroke="#00B050" stroke-width="5.8" stroke-dasharray="22 17"/>
<g id="texts" fill="#000">
<text id="title" x="389.33" y="89.70" style="font-family:'Liberation Sans', sans-serif;font-size:45px;font-weight:bold;stroke:#000;stroke-width:0.7px" textLength="1437.28" lengthAdjust="spacingAndGlyphs">Estimated roadmap for 2025 – although anything can happen</text>
<text id="a1" x="325.81" y="212.20" style="font-family:'Liberation Sans', sans-serif;font-size:27px;font-weight:bold" textLength="273.82" lengthAdjust="spacingAndGlyphs">Market ignore trade</text>
<text id="a2" x="389.69" y="242.50" style="font-family:'Liberation Sans', sans-serif;font-size:27px;font-weight:bold" textLength="148.39" lengthAdjust="spacingAndGlyphs">policy risk,</text>
<text id="a3" x="365.45" y="273.50" style="font-family:'Liberation Sans', sans-serif;font-size:27px;font-weight:bold" textLength="195.51" lengthAdjust="spacingAndGlyphs">underreaction</text>
<text id="b1" x="790.33" y="215.00" style="font-family:'Liberation Sans', sans-serif;font-size:27px;font-weight:bold" textLength="330.12" lengthAdjust="spacingAndGlyphs">Recovery as uncertainty</text>
<text id="b2" x="918.49" y="244.70" style="font-family:'Liberation Sans', sans-serif;font-size:27px;font-weight:bold" textLength="74.59" lengthAdjust="spacingAndGlyphs">fades</text>
<text id="c1" x="1630.46" y="254.00" style="font-family:'Liberation Sans', sans-serif;font-size:27px;font-weight:bold" textLength="399.24" lengthAdjust="spacingAndGlyphs">Global economy proves more</text>
<text id="c2" x="1773.85" y="284.00" style="font-family:'Liberation Sans', sans-serif;font-size:27px;font-weight:bold" textLength="111.13" lengthAdjust="spacingAndGlyphs">resilient</text>
<text id="d1" x="1256.94" y="737.00" style="font-family:'Liberation Sans', sans-serif;font-size:27px;font-weight:bold" textLength="364.12" lengthAdjust="spacingAndGlyphs">2nd period of weakness as</text>
<text id="d2" x="1204.36" y="767.00" style="font-family:'Liberation Sans', sans-serif;font-size:27px;font-weight:bold" textLength="470.39" lengthAdjust="spacingAndGlyphs">earnings/economy slow. recession</text>
<text id="d3" x="1355.54" y="798.30" style="font-family:'Liberation Sans', sans-serif;font-size:27px;font-weight:bold" textLength="167.96" lengthAdjust="spacingAndGlyphs">fear mounts</text>
<text id="e1" x="490.24" y="905.00" style="font-family:'Liberation Sans', sans-serif;font-size:27px;font-weight:bold" textLength="401.80" lengthAdjust="spacingAndGlyphs">Initial market overreaction to</text>
<text id="e2" x="566.85" y="934.60" style="font-family:'Liberation Sans', sans-serif;font-size:27px;font-weight:bold" textLength="247.91" lengthAdjust="spacingAndGlyphs">policy uncertainty</text>
<text id="src" x="41.29" y="1283.80" style="font-family:'Liberation Sans', sans-serif;font-size:27px;font-weight:normal" textLength="543.92" lengthAdjust="spacingAndGlyphs">Source: Bloomberg, Purpose Investments</text>
<text id="y0" x="159.81" y="210.80" style="font-family:'Liberation Sans', sans-serif;font-size:31.5px;font-weight:normal" textLength="56.95" lengthAdjust="spacingAndGlyphs">10%</text>
<text id="y1" x="174.90" y="345.00" style="font-family:'Liberation Sans', sans-serif;font-size:31.5px;font-weight:normal" textLength="41.50" lengthAdjust="spacingAndGlyphs">5%</text>
<text id="y2" x="173.05" y="479.10" style="font-family:'Liberation Sans', sans-serif;font-size:31.5px;font-weight:normal" textLength="43.46" lengthAdjust="spacingAndGlyphs">0%</text>
<text id="y3" x="163.90" y="613.30" style="font-family:'Liberation Sans', sans-serif;font-size:31.5px;font-weight:normal" textLength="52.50" lengthAdjust="spacingAndGlyphs">-5%</text>
<text id="y4" x="150.92" y="747.50" style="font-family:'Liberation Sans', sans-serif;font-size:31.5px;font-weight:normal" textLength="65.48" lengthAdjust="spacingAndGlyphs">-10%</text>
<text id="y5" x="153.77" y="881.60" style="font-family:'Liberation Sans', sans-serif;font-size:31.5px;font-weight:normal" textLength="63.40" lengthAdjust="spacingAndGlyphs">-15%</text>
<text id="y6" x="145.03" y="1015.80" style="font-family:'Liberation Sans', sans-serif;font-size:31.5px;font-weight:normal" textLength="71.50" lengthAdjust="spacingAndGlyphs">-20%</text>
<text id="ytitle" transform="translate(124.70,717.31) rotate(-90)" x="0" y="0" style="font-family:'Liberation Sans', sans-serif;font-size:30.5px;font-weight:normal" textLength="226.23" lengthAdjust="spacingAndGlyphs">Global markets</text>
<text id="x0" transform="translate(257.80,1172.99) rotate(-90)" x="0" y="0" style="font-family:'Liberation Sans', sans-serif;font-size:32px;font-weight:normal" textLength="148.39" lengthAdjust="spacingAndGlyphs">31-Dec-24</text>
<text id="x1" transform="translate(400.00,1162.96) rotate(-90)" x="0" y="0" style="font-family:'Liberation Sans', sans-serif;font-size:32px;font-weight:normal" textLength="138.01" lengthAdjust="spacingAndGlyphs">31-Jan-25</text>
<text id="x2" transform="translate(528.43,1175.02) rotate(-90)" x="0" y="0" style="font-family:'Liberation Sans', sans-serif;font-size:32px;font-weight:normal" textLength="150.70" lengthAdjust="spacingAndGlyphs">28-Feb-25</text>
<text id="x3" transform="translate(670.63,1167.97) rotate(-90)" x="0" y="0" style="font-family:'Liberation Sans', sans-serif;font-size:32px;font-weight:normal" textLength="143.54" lengthAdjust="spacingAndGlyphs">31-Mar-25</text>
<text id="x4" transform="translate(808.24,1172.47) rotate(-90)" x="0" y="0" style="font-family:'Liberation Sans', sans-serif;font-size:32px;font-weight:normal" textLength="148.13" lengthAdjust="spacingAndGlyphs">30-Apr-25</text>
<text id="x5" transform="translate(950.44,1171.55) rotate(-90)" x="0" y="0" style="font-family:'Liberation Sans', sans-serif;font-size:32px;font-weight:normal" textLength="147.14" lengthAdjust="spacingAndGlyphs">31-May-25</text>
<text id="x6" transform="translate(1088.05,1174.04) rotate(-90)" x="0" y="0" style="font-family:'Liberation Sans', sans-serif;font-size:32px;font-weight:normal" textLength="149.17" lengthAdjust="spacingAndGlyphs">30-Jun-25</text>
<text id="x7" transform="translate(1230.24,1153.33) rotate(-90)" x="0" y="0" style="font-family:'Liberation Sans', sans-serif;font-size:32px;font-weight:normal" textLength="128.01" lengthAdjust="spacingAndGlyphs">31-Jul-25</text>
<text id="x8" transform="translate(1372.44,1173.38) rotate(-90)" x="0" y="0" style="font-family:'Liberation Sans', sans-serif;font-size:32px;font-weight:normal" textLength="148.12" lengthAdjust="spacingAndGlyphs">31-Aug-25</text>
<text id="x9" transform="translate(1510.05,1176.02) rotate(-90)" x="0" y="0" style="font-family:'Liberation Sans', sans-serif;font-size:32px;font-weight:normal" textLength="150.96" lengthAdjust="spacingAndGlyphs">30-Sep-25</text>
<text id="x10" transform="translate(1652.25,1164.57) rotate(-90)" x="0" y="0" style="font-family:'Liberation Sans', sans-serif;font-size:32px;font-weight:normal" textLength="139.54" lengthAdjust="spacingAndGlyphs">31-Oct-25</text>
<text id="x11" transform="translate(1789.86,1178.64) rotate(-90)" x="0" y="0" style="font-family:'Liberation Sans', sans-serif;font-size:32px;font-weight:normal" textLength="153.78" lengthAdjust="spacingAndGlyphs">30-Nov-25</text>
<text id="x12" transform="translate(1932.05,1169.77) rotate(-90)" x="0" y="0" style="font-family:'Liberation Sans', sans-serif;font-size:32px;font-weight:normal" textLength="145.24" lengthAdjust="spacingAndGlyphs">31-Dec-25</text>
</g>
</svg></body></html>
